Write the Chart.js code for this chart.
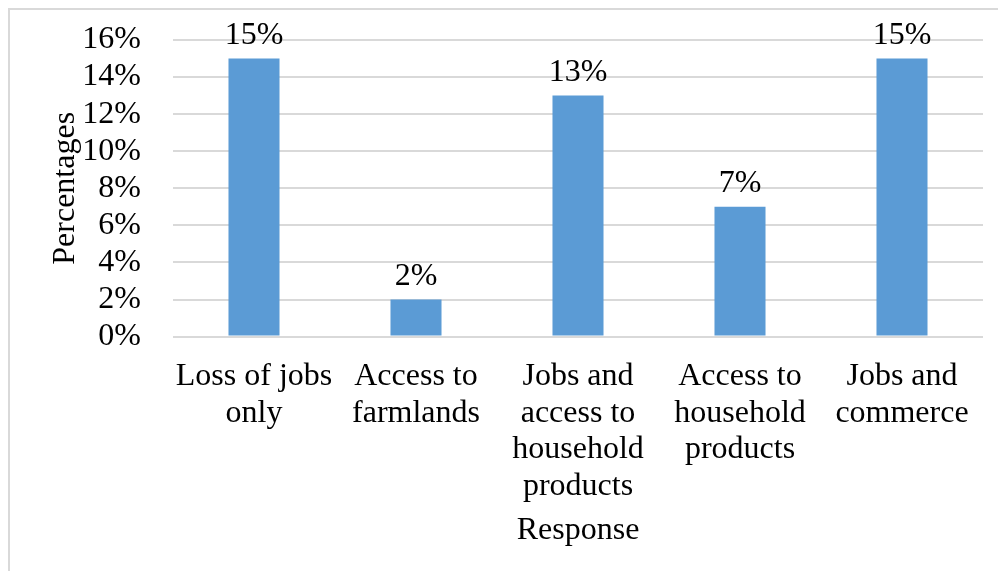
<!DOCTYPE html>
<html>
<head>
<meta charset="utf-8">
<script src="https://cdn.jsdelivr.net/npm/chart.js@4/dist/chart.umd.min.js"></script>
<style>
  html, body { margin: 0; padding: 0; background: #fff; overflow: hidden; }
  #frame { position: absolute; left: 0; top: 0; width: 998px; height: 571px; }
  #border { position: absolute; left: 8px; top: 8px; width: 1100px; height: 700px;
            border-left: 2px solid #d9d9d9; border-top: 2px solid #d9d9d9; }
</style>
</head>
<body>
<div id="border"></div>
<div id="frame"><canvas id="responseChart"></canvas></div>
<script>
// Categories and values
const categories = [
    ["Loss of jobs", "only"],
    ["Access to", "farmlands"],
    ["Jobs and", "access to", "household", "products"],
    ["Access to", "household", "products"],
    ["Jobs and", "commerce"]
];
const percentages = [15, 2, 13, 7, 15];
const yTicks = [0, 2, 4, 6, 8, 10, 12, 14, 16];

const serif = "'Liberation Serif', 'Times New Roman', serif";
const textFont = { family: serif, size: 32, lineHeight: 1.14 };

// Draw the value labels above each bar
const barLabels = {
    id: "barLabels",
    afterDatasetsDraw(chart) {
        const ctx = chart.ctx;
        const meta = chart.getDatasetMeta(0);
        ctx.save();
        ctx.font = "32px " + serif;
        ctx.fillStyle = "#000";
        ctx.textAlign = "center";
        ctx.textBaseline = "bottom";
        meta.data.forEach((bar, i) => {
            ctx.fillText(percentages[i] + "%", bar.x, bar.y - 7);
        });
        ctx.restore();
    }
};

const canvas = document.getElementById("responseChart");
canvas.width = 998;
canvas.height = 571;

new Chart(canvas.getContext("2d"), {
    type: "bar",
    data: {
        labels: categories,
        datasets: [{
            data: percentages,
            backgroundColor: "#5b9bd5",
            barPercentage: 0.63,
            categoryPercentage: 0.5
        }]
    },
    options: {
        responsive: false,
        animation: false,
        layout: { padding: { left: 46, right: 15, top: 30, bottom: 22 } },
        plugins: {
            legend: { display: false },
            tooltip: { enabled: false }
        },
        scales: {
            x: {
                grid: { display: false },
                border: { display: false },
                ticks: {
                    color: "#000",
                    font: textFont,
                    padding: 14,
                    maxRotation: 0,
                    autoSkip: false
                },
                title: {
                    display: true,
                    text: "Response",
                    color: "#000",
                    font: textFont,
                    padding: { top: -6, bottom: 0 }
                }
            },
            y: {
                min: 0,
                max: 16,
                afterBuildTicks(axis) {
                    axis.ticks = yTicks.map(v => ({ value: v }));
                },
                afterFit(axis) {
                    axis.width = 127;
                },
                grid: { color: "#d9d9d9", lineWidth: 2, drawTicks: false },
                border: { display: false },
                ticks: {
                    color: "#000",
                    font: { family: serif, size: 32, lineHeight: 0.5 },
                    padding: 32,
                    autoSkip: false,
                    callback: v => v + "%"
                },
                title: {
                    display: true,
                    text: "Percentages",
                    color: "#000",
                    font: { family: serif, size: 32 },
                    padding: 0
                }
            }
        }
    },
    plugins: [barLabels]
});
</script>
</body>
</html>
